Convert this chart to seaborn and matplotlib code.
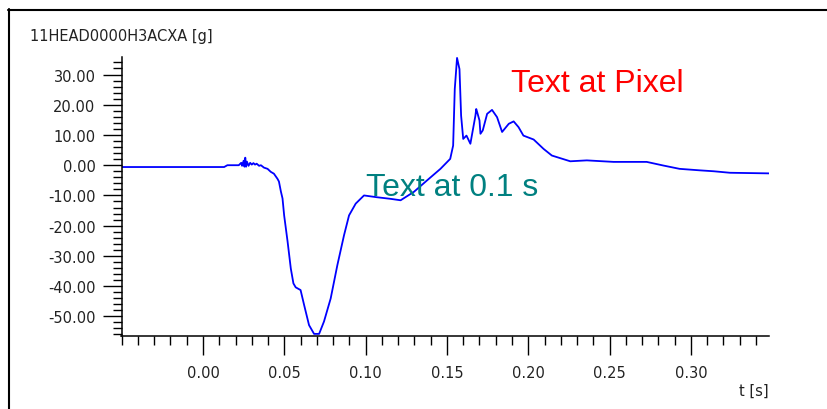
import matplotlib
matplotlib.use('Agg')
import matplotlib.pyplot as plt
from matplotlib.lines import Line2D
from matplotlib.ticker import MultipleLocator, FixedLocator, FormatStrFormatter
import pandas as pd
import seaborn as sns

# acceleration trace
t = [-0.0501, 0.013, 0.015, 0.022, 0.0235, 0.024, 0.025, 0.0255, 0.026, 0.0265,
     0.027, 0.028, 0.029, 0.030, 0.031, 0.032, 0.033, 0.0345, 0.0356, 0.0375,
     0.0397, 0.0417, 0.0436, 0.0458, 0.0467, 0.0479, 0.0489, 0.0499, 0.052, 0.054,
     0.0556, 0.057, 0.060, 0.0622, 0.0652, 0.0683, 0.0714, 0.0744, 0.0785, 0.0826,
     0.0867, 0.0898, 0.0939, 0.099, 0.103, 0.107, 0.115, 0.1215, 0.1297, 0.1378,
     0.146, 0.152, 0.1538, 0.1548, 0.1562, 0.1577, 0.1587, 0.160, 0.162, 0.1644,
     0.1675, 0.168, 0.1685, 0.170, 0.1706, 0.172, 0.1747, 0.1777, 0.1808, 0.1839,
     0.188, 0.191, 0.194, 0.197, 0.2033, 0.2094, 0.2145, 0.2258, 0.236, 0.2524,
     0.2728, 0.283, 0.293, 0.3055, 0.314, 0.324, 0.348]
g = [-0.6, -0.6, 0.0, 0.0, 0.8, -0.2, 1.5, -0.5, 2.5, -0.5,
     1.2, -0.2, 0.8, 0.2, 0.7, 0.2, 0.5, -0.2, 0.0, -0.8,
     -1.2, -2.2, -2.8, -4.5, -5.4, -8.7, -11.0, -16.6, -25.2, -34.2,
     -39.1, -40.4, -41.3, -46.3, -52.9, -55.8, -55.8, -51.7, -44.1, -33.1,
     -23.2, -16.6, -12.7, -10.0, -10.3, -10.6, -11.1, -11.6, -8.8, -5.0,
     -1.2, 2.1, 6.5, 25.2, 35.5, 31.8, 16.4, 8.7, 9.8, 7.1,
     16.4, 18.6, 17.7, 14.8, 10.4, 11.5, 17.0, 18.3, 15.9, 11.0,
     13.7, 14.5, 12.6, 9.8, 8.5, 5.4, 3.2, 1.3, 1.6, 1.1,
     1.1, -0.1, -1.2, -1.7, -2.0, -2.5, -2.7]

x_major = [0.00, 0.05, 0.10, 0.15, 0.20, 0.25, 0.30]
y_title = '11HEAD0000H3ACXA [g]'
x_title = 't [s]'

sns.set_style('white')
plt.rcParams['font.family'] = ['DejaVu Sans']
plt.rcParams['axes.unicode_minus'] = False

W, H = 828, 410
fig = plt.figure(figsize=(W / 100, H / 100), dpi=100)
ax = fig.add_axes([121.5 / W, 1 - 337.3 / H, (769 - 121.5) / W, (337.3 - 58) / H])

df = pd.DataFrame({'t': t, 'g': g})
sns.lineplot(data=df, x='t', y='g', ax=ax, color='#0000ff', linewidth=1.3,
             estimator=None, sort=False)

ax.set_xlim(-0.0501, 0.348)
ax.set_ylim(-56.6, 35.8)
ax.xaxis.set_major_locator(FixedLocator(x_major))
ax.xaxis.set_minor_locator(MultipleLocator(0.01))
ax.yaxis.set_major_locator(MultipleLocator(10))
ax.yaxis.set_minor_locator(MultipleLocator(2))
ax.xaxis.set_major_formatter(FormatStrFormatter('%.2f'))
ax.yaxis.set_major_formatter(FormatStrFormatter('%.2f'))

ax.tick_params(which='major', direction='out', length=13.7, width=1, color='black',
               labelsize=10.5, labelcolor='#222222')
ax.tick_params(which='minor', direction='out', length=6.5, width=1, color='black')
ax.tick_params(axis='x', which='major', pad=7, bottom=True)
ax.tick_params(axis='x', which='minor', bottom=True)
ax.tick_params(axis='y', which='major', pad=5, left=True)
ax.tick_params(axis='y', which='minor', left=True)

for side in ['top', 'right']:
    ax.spines[side].set_visible(False)
for side in ['left', 'bottom']:
    ax.spines[side].set_color('black')
    ax.spines[side].set_linewidth(1.1)
ax.set_xlabel('')
ax.set_ylabel('')

fig.text(30 / W, 1 - 37 / H, y_title, ha='left', va='center', fontsize=10.5, color='#222222')
fig.text(769 / W, 1 - 391 / H, x_title, ha='right', va='center', fontsize=10.5, color='#222222')

ax.text(0.1, -10, 'Text at 0.1 s', color='#008080', fontsize=23,
        family=['Liberation Sans', 'DejaVu Sans'], ha='left', va='baseline')
fig.text(511 / W, 1 - 91.7 / H, 'Text at Pixel', color='#ff0000', fontsize=23,
         family=['Liberation Sans', 'DejaVu Sans'], ha='left', va='baseline')

# outer frame, left and top edges
fig.add_artist(Line2D([8.5 / W, 8.5 / W], [0, 1 - 10 / H], transform=fig.transFigure,
                      color='black', linewidth=1.5))
fig.add_artist(Line2D([8 / W, 1], [1 - 10.5 / H, 1 - 10.5 / H], transform=fig.transFigure,
                      color='black', linewidth=1.5))

fig.savefig('out.png', dpi=100)
